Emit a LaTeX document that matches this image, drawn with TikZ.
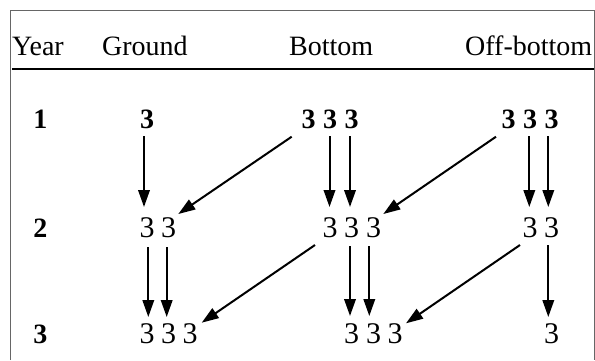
\documentclass[tikz,border=0pt]{standalone}
\usepackage{fontspec}
\setmainfont{Liberation Serif}
\usetikzlibrary{arrows.meta}
\begin{document}
\begin{tikzpicture}[x=1pt,y=-1pt,
  every node/.style={inner sep=0pt, anchor=base},
  head/.style={font=\fontsize{28}{32}\selectfont, anchor=base west},
  lab/.style={font=\fontsize{28}{32}\selectfont\bfseries},
  bd/.style={font=\fontsize{28}{32}\selectfont\bfseries},
  rg/.style={font=\fontsize{30}{34}\selectfont},
  arr/.style={line width=2pt, -{Triangle[length=17pt,width=11.5pt]}},
  frame/.style={draw=black!60, line width=0.8pt},
  rule/.style={line width=2.8pt}]
\useasboundingbox (0,0) rectangle (595,360);
% frame
\coordinate (fbl) at (10,360);
\coordinate (ftl) at (10,10);
\coordinate (ftr) at (594,10);
\coordinate (fbr) at (594,360);
\draw[frame] (fbl) -- (ftl) -- (ftr) -- (fbr);
% header
\node[head] (hy) at (12,55) {Year};
\node[head] (hg) at (102,55) {Ground};
\node[head] (hb) at (289,55) {Bottom};
\node[head] (ho) at (465,55) {Off-bottom};
\coordinate (rl) at (12,69);
\coordinate (rr) at (594,69);
\draw[rule] (rl) -- (rr);
% row labels
\node[lab] (y1) at (40.5,128) {1};
\node[lab] (y2) at (40.5,237) {2};
\node[lab] (y3) at (40.5,343) {3};
% row 1
\node[bd] (g1a) at (147,128) {3};
\node[bd] (b1a) at (308.5,128) {3};
\node[bd] (b1b) at (330,128) {3};
\node[bd] (b1c) at (351.5,128) {3};
\node[bd] (o1a) at (508.5,128) {3};
\node[bd] (o1b) at (530,128) {3};
\node[bd] (o1c) at (551.5,128) {3};
% row 2
\node[rg] (g2a) at (147,237) {3};
\node[rg] (g2b) at (168.5,237) {3};
\node[rg] (b2a) at (330,237) {3};
\node[rg] (b2b) at (351.5,237) {3};
\node[rg] (b2c) at (373.5,237) {3};
\node[rg] (o2a) at (530,237) {3};
\node[rg] (o2b) at (551.5,237) {3};
% row 3
\node[rg] (g3a) at (147,343) {3};
\node[rg] (g3b) at (168.5,343) {3};
\node[rg] (g3c) at (190,343) {3};
\node[rg] (b3a) at (351.5,343) {3};
\node[rg] (b3b) at (373.5,343) {3};
\node[rg] (b3c) at (395,343) {3};
\node[rg] (o3a) at (551.5,343) {3};
% vertical arrows, year 1 to 2
\draw[arr] ([shift={(-3,8)}]g1a.base) -- ([shift={(-3,-30)}]g2a.base);
\draw[arr] ([shift={(-0.5,8)}]b1b.base) -- ([shift={(-0.5,-30)}]b2a.base);
\draw[arr] ([shift={(-1.5,8)}]b1c.base) -- ([shift={(-1.5,-30)}]b2b.base);
\draw[arr] ([shift={(-0.7,8)}]o1b.base) -- ([shift={(-0.7,-30)}]o2a.base);
\draw[arr] ([shift={(-3.2,8)}]o1c.base) -- ([shift={(-3.2,-30)}]o2b.base);
% vertical arrows, year 2 to 3
\draw[arr] ([shift={(1.3,10)}]g2a.base) -- ([shift={(1.3,-26)}]g3a.base);
\draw[arr] ([shift={(-1.8,10)}]g2b.base) -- ([shift={(-1.8,-26)}]g3b.base);
\draw[arr] ([shift={(-1.5,9)}]b2b.base) -- ([shift={(-1.5,-27)}]b3a.base);
\draw[arr] ([shift={(-4.2,9)}]b2c.base) -- ([shift={(-4.2,-27)}]b3b.base);
\draw[arr] ([shift={(-3.2,8)}]o2b.base) -- ([shift={(-3.2,-26)}]o3a.base);
% diagonal arrows
\draw[arr] ([shift={(-16.8,8.7)}]b1a.base) -- ([shift={(9.8,-23)}]g2b.base);
\draw[arr] ([shift={(-12.5,8.7)}]o1a.base) -- ([shift={(9.8,-23)}]b2c.base);
\draw[arr] ([shift={(-15,8)}]b2a.base) -- ([shift={(11.7,-20.3)}]g3c.base);
\draw[arr] ([shift={(-10,8)}]o2a.base) -- ([shift={(11,-19.7)}]b3c.base);
\end{tikzpicture}
\end{document}
